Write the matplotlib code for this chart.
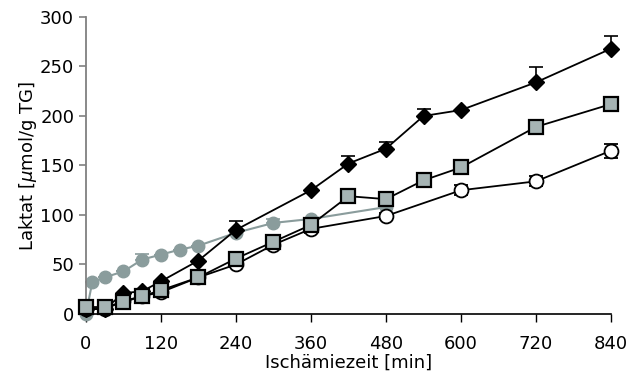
import matplotlib.pyplot as plt
import numpy as np

# Lactate accumulation during ischemia (µmol/g TG)
t_grey = [0, 10, 30, 60, 90, 120, 150, 180, 240, 300, 360, 480]
lac_grey = [0, 32, 37, 43, 55, 60, 65, 69, 82, 92, 96, 108]
err_grey = [0, 0, 0, 0, 6, 0, 0, 0, 0, 4, 0, 0]

t_main = [0, 30, 60, 90, 120, 180, 240, 360, 420, 480, 540, 600, 720, 840]
t_circle = [0, 30, 60, 90, 120, 180, 240, 300, 360, 480, 600, 720, 840]
t_square = [0, 30, 60, 90, 120, 180, 240, 300, 360, 420, 480, 540, 600, 720, 840]

lac_diamond = [5, 5, 21, 23, 33, 54, 85, 125, 152, 167, 200, 206, 234, 268]
err_diamond = [0, 0, 0, 0, 0, 0, 9, 0, 8, 7, 7, 0, 15, 13]

lac_circle = [5, 5, 13, 18, 22, 37, 50, 70, 86, 99, 125, 134, 165]
err_circle = [0, 0, 0, 0, 0, 0, 3, 0, 4, 3, 5, 5, 7]

lac_square = [7, 7, 12, 18, 24, 37, 56, 73, 90, 119, 116, 135, 148, 189, 212]
err_square = [0, 0, 0, 0, 0, 0, 0, 0, 3, 3, 3, 5, 0, 6, 3]

grey_line = '#8a9c9c'
square_fill = '#a6b4b4'

plt.rcParams['font.family'] = 'DejaVu Sans'
fig = plt.figure(figsize=(6.29, 3.81), dpi=100)
ax = fig.add_axes([0.1367, 0.1759, 0.8347, 0.7795])

# grey circles: only upper error bars
ax.errorbar(t_grey, lac_grey, yerr=[np.zeros(len(err_grey)), err_grey], color=grey_line,
            marker='o', markersize=9, mfc=grey_line, mec=grey_line, lw=1.5,
            capsize=5, elinewidth=1.2, capthick=1.2, clip_on=False, zorder=2)

ax.errorbar(t_circle, lac_circle, yerr=err_circle, color='black', marker='o',
            markersize=10, mfc='white', mec='black', mew=1.3, lw=1.3,
            capsize=5, elinewidth=1.2, capthick=1.2, clip_on=False, zorder=3)

ax.errorbar(t_main, lac_diamond, yerr=[np.zeros(len(err_diamond)), err_diamond],
            color='black', marker='D', markersize=8, mfc='black', mec='black', lw=1.3,
            capsize=5, elinewidth=1.2, capthick=1.2, clip_on=False, zorder=4)

ax.errorbar(t_square, lac_square, yerr=err_square, color='black', marker='s',
            markersize=10, mfc=square_fill, mec='black', mew=1.6, lw=1.3,
            capsize=5, elinewidth=1.2, capthick=1.2, clip_on=False, zorder=5)

ax.set_xlim(0, 840)
ax.set_ylim(0, 300)
ax.set_xticks(np.arange(0, 841, 120))
ax.set_yticks(np.arange(0, 301, 50))

ax.spines['top'].set_visible(False)
ax.spines['right'].set_visible(False)
ax.spines['left'].set_color('#808080')
ax.spines['left'].set_linewidth(1.3)
ax.spines['bottom'].set_linewidth(1.2)
ax.tick_params(axis='y', colors='#808080', labelcolor='black', direction='out',
               length=5, width=1.2, labelsize=13)
ax.tick_params(axis='x', direction='out', length=6, width=1.0, labelsize=13, pad=9)

ax.set_xlabel('Ischämiezeit [min]', fontsize=13, labelpad=1)
ax.set_ylabel('Laktat [$\\mu$mol/g TG]', fontsize=13, labelpad=1)

fig.savefig('out.png', dpi=100)
